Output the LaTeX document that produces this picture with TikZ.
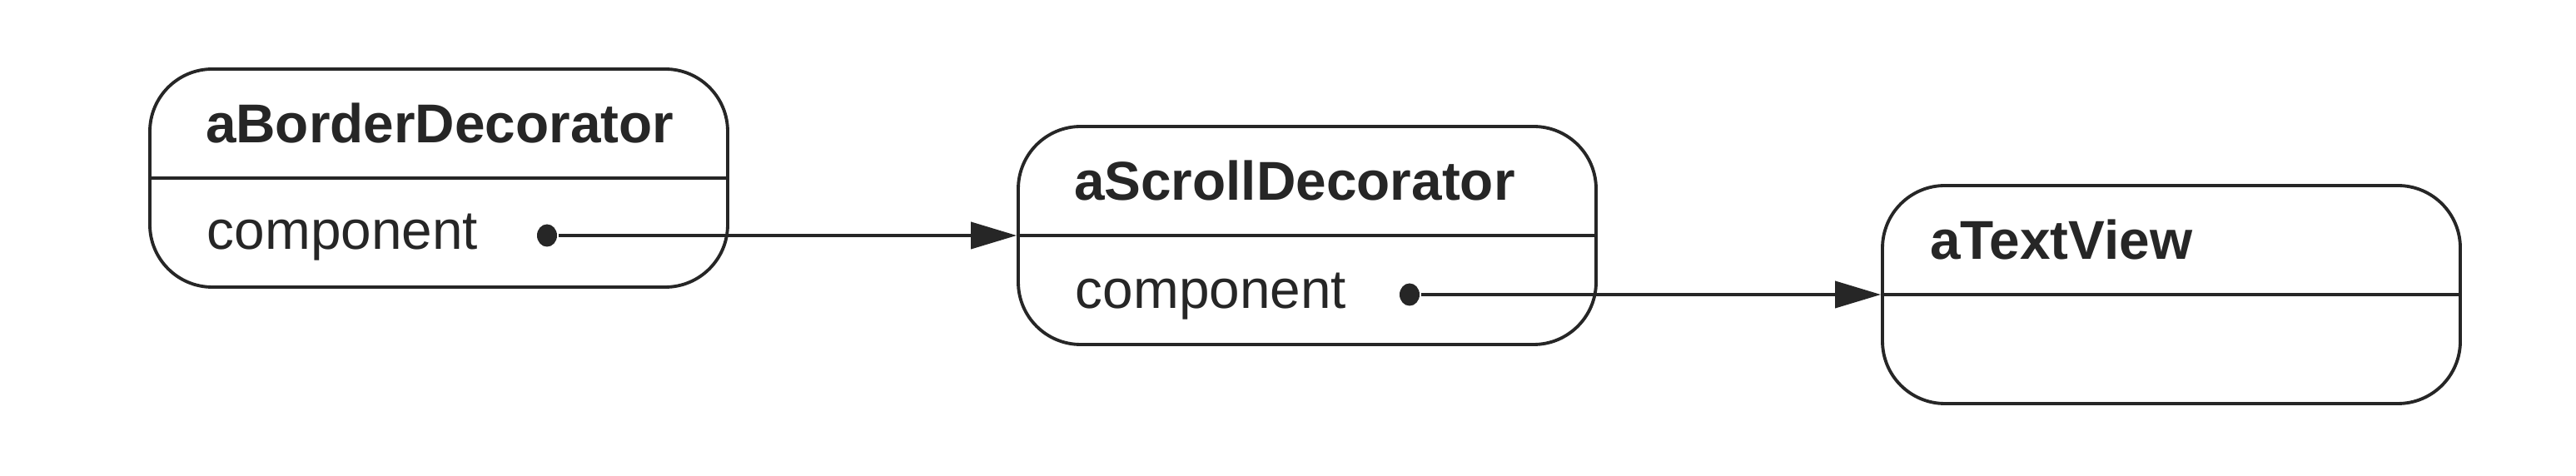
\documentclass[tikz,border=0pt]{standalone}
\usepackage{fontspec}
\setmainfont{Liberation Sans}
\usetikzlibrary{arrows.meta,calc,positioning}
\tikzset{
  objbox/.style={draw, rounded corners=0.75cm, minimum width=6.94cm, minimum height=2.62cm, inner sep=0pt},
  objname/.style={anchor=base west, inner sep=0pt, font=\fontsize{18.7}{22}\selectfont\bfseries},
  attrname/.style={anchor=base west, inner sep=0pt, font=\fontsize{18.7}{22}\selectfont},
  refdot/.style={ellipse, fill, inner sep=0pt, minimum width=0.24cm, minimum height=0.27cm},
  refarrow/.style={-{Triangle[length=0.55cm,width=0.32cm]}}
}
\usetikzlibrary{shapes.geometric}

\begin{document}
\begin{tikzpicture}[line width=1.1pt, color=black!85]
  \useasboundingbox (0,0) rectangle (30.94,5.72);
  % objects
  \node[objbox] (border) at (5.27,3.58) {};
  \node[objbox] (scroll) at (15.70,2.89) {};
  \node[objbox] (textview) at (26.08,2.18) {};
  \draw (border.west) -- (border.east);
  \draw (scroll.west) -- (scroll.east);
  \draw (textview.west) -- (textview.east);
  \node[objname] (bordername) at ($(border.north west)+(0.67,-0.90)$) {aBorderDecorator};
  \node[objname] (scrollname) at ($(scroll.north west)+(0.67,-0.90)$) {aScrollDecorator};
  \node[objname] (textviewname) at ($(textview.north west)+(0.57,-0.90)$) {aTextView};
  % references
  \node[refdot] (borderdot) at (6.57,2.89) {};
  \node[refdot] (scrolldot) at (16.93,2.18) {};
  \node[attrname] (borderattr) at ($(borderdot)+(-4.10,-0.17)$) {component};
  \node[attrname] (scrollattr) at ($(scrolldot)+(-4.03,-0.17)$) {component};
  \draw[refarrow] (borderdot) -- (scroll.west);
  \draw[refarrow] (scrolldot) -- (textview.west);
\end{tikzpicture}
\end{document}
